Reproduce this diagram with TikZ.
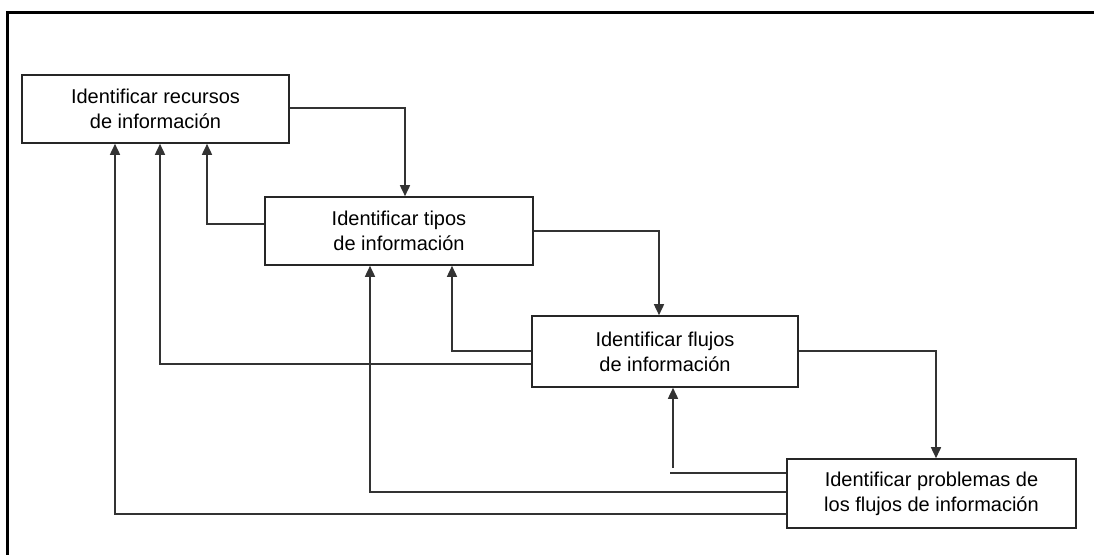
\documentclass[tikz,border=0pt]{standalone}
\usepackage{fontspec}
\setmainfont{Liberation Sans}
\usetikzlibrary{arrows.meta}
\begin{document}
\begin{tikzpicture}[x=1pt,y=-1pt,
  box/.style={draw=black!85, line width=1.6pt, fill=white, align=center, inner sep=0pt,
    font=\fontsize{20}{25}\selectfont},
  conn/.style={draw=black!80, line width=1.6pt},
  arr/.style={conn, -{Triangle[width=10pt,length=11pt]}}]
\useasboundingbox (0,0) rectangle (1094,554);
\draw[line width=3pt] (7,556) -- (7,12) -- (1096,12);
\node[box, minimum width=267pt, minimum height=68pt] (b1) at (155.5,109) {Identificar recursos\\de información};
\node[box, minimum width=268pt, minimum height=68pt] (b2) at (399,231) {Identificar tipos\\de información};
\node[box, minimum width=266pt, minimum height=71pt] (b3) at (665,351.5) {Identificar flujos\\de información};
\node[box, minimum width=289pt, minimum height=69pt] (b4) at (931.5,493.5) {Identificar problemas de\\los flujos de información};
\coordinate (g) at (673,468);
\coordinate (h) at (670,473);
\draw[arr] (b1.east |- 0,108) -| (b2.north -| 405,0);
\draw[arr] (b2.west |- 0,224) -| (b1.south -| 207,0);
\draw[arr] (b2.east |- 0,231) -| (b3.north -| 659,0);
\draw[arr] (b3.west |- 0,351) -| (b2.south -| 452,0);
\draw[arr] (b3.west |- 0,364) -| (b1.south -| 160,0);
\draw[arr] (b3.east |- 0,351) -| (b4.north -| 936,0);
\draw[arr] (g) -- (b3.south -| 673,0);
\draw[conn] (b4.west |- 0,473) -- (h);
\draw[arr] (b4.west |- 0,492) -| (b2.south -| 370,0);
\draw[arr] (b4.west |- 0,514) -| (b1.south -| 115,0);
\end{tikzpicture}
\end{document}
